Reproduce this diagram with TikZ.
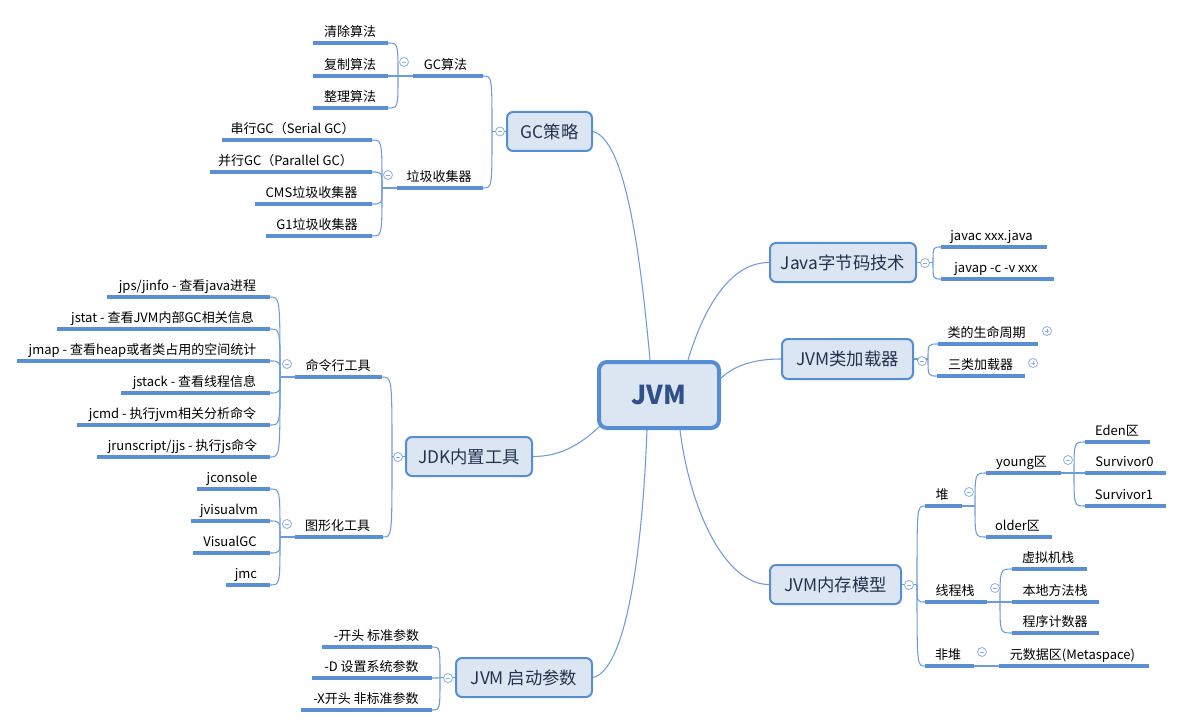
\documentclass[tikz,border=0pt]{standalone}
\usepackage{fontspec}
\setmainfont{Noto Sans CJK SC}
\usetikzlibrary{calc,backgrounds}
\definecolor{bfill}{HTML}{DCE6F2}
\definecolor{bline}{HTML}{558ED5}
\definecolor{cline}{HTML}{6E9BDA}
\definecolor{uline}{HTML}{5A8FD6}
\definecolor{jvmtext}{HTML}{2F5088}
\definecolor{ttext}{HTML}{23324D}
\definecolor{circ}{HTML}{8CAEE0}
\tikzset{
  conn/.style={draw=cline, line width=0.8pt},
  ul/.style={draw=uline, line width=2.4pt},
  lt/.style={anchor=base, inner sep=0pt, font=\fontsize{9.75pt}{12pt}\selectfont, text=black},
  topic/.style 2 args={draw=bline, fill=bfill, rounded corners=4.5pt, line width=1.5pt,
    minimum width=#1*0.75pt, minimum height=#2*0.75pt, inner sep=0pt,
    font=\fontsize{13pt}{15pt}\selectfont, text=ttext},
  root/.style={draw=bline, fill=bfill, rounded corners=6pt, line width=3pt,
    minimum width=90pt, minimum height=49.5pt, inner sep=0pt,
    font=\fontsize{19.5pt}{22pt}\selectfont\bfseries, text=jvmtext},
  tog/.style={circle, draw=circ, fill=white, line width=0.6pt, minimum size=6.75pt, inner sep=0pt},
  togbar/.style={draw=circ, line width=0.6pt},
}
% leaf: name, x1, x2, y (underline), text x, text
\newcommand\lf[6]{%
  \coordinate (#1-l) at (#2,#4);
  \coordinate (#1-r) at (#3,#4);
  \draw[ul] (#1-l) -- (#1-r);
  \node[lt] (#1) at (#5,#4-6.5) {#6};}
% bracket connector from junction to child end
\newcommand\br[2]{\draw[conn] (#1) .. controls (#1 |- #2) .. (#2);}
% toggle circles
\newcommand\tgm[3]{\node[tog] (#1) at (#2,#3) {};
  \draw[togbar] ($(#1)+(-2.3,0)$) -- ($(#1)+(2.3,0)$);}
\newcommand\tgp[3]{\node[tog] (#1) at (#2,#3) {};
  \draw[togbar] ($(#1)+(-2.3,0)$) -- ($(#1)+(2.3,0)$);
  \draw[togbar] ($(#1)+(0,-2.3)$) -- ($(#1)+(0,2.3)$);}
\begin{document}
\begin{tikzpicture}[x=0.75pt,y=-0.75pt]
\useasboundingbox (0,0) rectangle (1184,727);
% root and main topics
\node[root] (jvm) at (659,395) {JVM};
\node[topic={85}{39}] (gc) at (549.5,131.5) {GC策略};
\node[topic={146}{39}] (java) at (843,262.5) {Java字节码技术};
\node[topic={131}{40}] (cl) at (847.5,359) {JVM类加载器};
\node[topic={131}{39}] (mem) at (835.5,584.5) {JVM内存模型};
\node[topic={126}{39}] (jdk) at (469,456.5) {JDK内置工具};
\node[topic={136}{39}] (arg) at (524,677.5) {JVM 启动参数};
% leaves
\lf{qc}{313}{388}{43}{350}{清除算法}
\lf{fz}{313}{388}{76}{350}{复制算法}
\lf{zl}{313}{388}{108}{350}{整理算法}
\lf{gca}{413}{483}{76}{445.5}{GC算法}
\lf{ljs}{397}{483}{188}{439}{垃圾收集器}
\lf{serial}{222}{372}{140}{292.5}{串行GC（Serial GC）}
\lf{para}{210}{372}{172}{285.5}{并行GC（Parallel GC）}
\lf{cms}{255}{372}{204}{311.5}{CMS垃圾收集器}
\lf{gone}{266}{372}{236}{317}{G1垃圾收集器}
\lf{cmd}{295}{382}{377}{338}{命令行工具}
\lf{jps}{107}{270}{297}{187.5}{jps/jinfo - 查看java进程}
\lf{jstat}{57}{270}{329}{162.5}{jstat - 查看JVM内部GC相关信息}
\lf{jmap}{17}{270}{361}{142.5}{jmap - 查看heap或者类占用的空间统计}
\lf{jstack}{121}{270}{393}{194.5}{jstack - 查看线程信息}
\lf{jcmd}{77}{270}{425}{172.5}{jcmd - 执行jvm相关分析命令}
\lf{jrun}{97}{270}{457}{182.5}{jrunscript/jjs - 执行js命令}
\lf{gui}{295}{383}{537}{337.5}{图形化工具}
\lf{jcon}{197}{270}{489}{232}{jconsole}
\lf{jvv}{191}{270}{521}{229}{jvisualvm}
\lf{vgc}{193}{270}{553}{230}{VisualGC}
\lf{jmc}{226}{270}{585}{246}{jmc}
\lf{aone}{322}{432}{647}{376.5}{-开头 标准参数}
\lf{atwo}{312}{432}{678}{371.5}{-D 设置系统参数}
\lf{athree}{301}{432}{710}{366}{-X开头 非标准参数}
\lf{javac}{941}{1047}{247}{991.5}{javac xxx.java}
\lf{javap}{941}{1054}{279}{996}{javap -c -v xxx}
\lf{life}{938}{1038}{344}{986.5}{类的生命周期}
\lf{three}{937}{1025}{376}{980.5}{三类加载器}
\lf{heap}{925}{962}{506}{942}{堆}
\lf{tstack}{925}{987}{602}{955}{线程栈}
\lf{nheap}{925}{974}{666}{948}{非堆}
\lf{young}{986}{1061}{473}{1021.5}{young区}
\lf{older}{986}{1052}{537}{1017.5}{older区}
\lf{eden}{1085}{1150}{442}{1117}{Eden区}
\lf{szero}{1085}{1166}{473}{1124.5}{Survivor0}
\lf{sone}{1085}{1166}{506}{1124}{Survivor1}
\lf{vms}{1012}{1087}{569}{1048}{虚拟机栈}
\lf{nms}{1012}{1099}{602}{1055}{本地方法栈}
\lf{pc}{1012}{1099}{633}{1055}{程序计数器}
\lf{meta}{999}{1149}{666}{1072.5}{元数据区(Metaspace)}
% junctions
\coordinate (j-gc) at (492,131.5);
\coordinate (j-gca) at (398,76);
\coordinate (j-ljs) at (382,188);
\coordinate (j-jdk) at (392,456.5);
\coordinate (j-cmd) at (280,377);
\coordinate (j-gui) at (280,537);
\coordinate (j-arg) at (440,677.5);
\coordinate (j-java) at (933,262.5);
\coordinate (j-cl) at (928,359);
\coordinate (j-mem) at (917,584.5);
\coordinate (j-heap) at (975,506);
\coordinate (j-young) at (1074,473);
\coordinate (j-ts) at (1000,602);
% toggles
\tgm{t-gc}{500}{131.5}
\tgm{t-gca}{404}{62}
\tgm{t-ljs}{388}{175}
\tgm{t-jdk}{398}{457}
\tgm{t-cmd}{287}{364}
\tgm{t-gui}{287}{524}
\tgm{t-arg}{448}{678}
\tgm{t-java}{925}{263}
\tgm{t-cl}{922}{361}
\tgm{t-mem}{909}{585}
\tgm{t-heap}{969}{492}
\tgm{t-young}{1068}{460}
\tgm{t-ts}{995}{588}
\tgm{t-nheap}{982}{652}
\tgp{p-life}{1047}{331}
\tgp{p-three}{1033}{363}
% connectors
\begin{pgfonlayer}{background}
\draw[conn] ($(jvm.north)+(-9,0)$) .. controls (640,250) and (625,140) .. (gc.east);
\draw[conn] ($(jvm.north)+(29,0)$) .. controls (700,320) and (725,262.5) .. (java.west);
\draw[conn] ($(jvm.east)+(0,-17)$) .. controls (735,365) and (755,359) .. (cl.west);
\draw[conn] ($(jvm.south)+(21,0)$) .. controls (690,510) and (725,584.5) .. (mem.west);
\draw[conn] ($(jvm.south west)+(3,-4)$) .. controls (580,445) and (560,456.5) .. (jdk.east);
\draw[conn] ($(jvm.south)+(-12,0)$) .. controls (642,560) and (625,670) .. (arg.east);
% GC
\draw[conn] (gc.west) -- (j-gc);
\br{j-gc}{gca-r}\br{j-gc}{ljs-r}
\draw[conn] (gca-l) -- (j-gca);
\br{j-gca}{qc-r}\br{j-gca}{fz-r}\br{j-gca}{zl-r}
\draw[conn] (ljs-l) -- (j-ljs);
\br{j-ljs}{serial-r}\br{j-ljs}{para-r}\br{j-ljs}{cms-r}\br{j-ljs}{gone-r}
% JDK
\draw[conn] (jdk.west) -- (j-jdk);
\br{j-jdk}{cmd-r}\br{j-jdk}{gui-r}
\draw[conn] (cmd-l) -- (j-cmd);
\br{j-cmd}{jps-r}\br{j-cmd}{jstat-r}\br{j-cmd}{jmap-r}\br{j-cmd}{jstack-r}\br{j-cmd}{jcmd-r}\br{j-cmd}{jrun-r}
\draw[conn] (gui-l) -- (j-gui);
\br{j-gui}{jcon-r}\br{j-gui}{jvv-r}\br{j-gui}{vgc-r}\br{j-gui}{jmc-r}
% args
\draw[conn] (arg.west) -- (j-arg);
\br{j-arg}{aone-r}\br{j-arg}{atwo-r}\br{j-arg}{athree-r}
% java
\draw[conn] (java.east) -- (j-java);
\br{j-java}{javac-l}\br{j-java}{javap-l}
% class loader
\draw[conn] (cl.east) -- (j-cl);
\br{j-cl}{life-l}\br{j-cl}{three-l}
% memory
\draw[conn] (mem.east) -- (j-mem);
\br{j-mem}{heap-l}\br{j-mem}{tstack-l}\br{j-mem}{nheap-l}
\draw[conn] (heap-r) -- (j-heap);
\br{j-heap}{young-l}\br{j-heap}{older-l}
\draw[conn] (young-r) -- (j-young);
\br{j-young}{eden-l}\br{j-young}{szero-l}\br{j-young}{sone-l}
\draw[conn] (tstack-r) -- (j-ts);
\br{j-ts}{vms-l}\br{j-ts}{nms-l}\br{j-ts}{pc-l}
\draw[conn] (nheap-r) -- (meta-l);
\end{pgfonlayer}
\end{tikzpicture}
\end{document}
